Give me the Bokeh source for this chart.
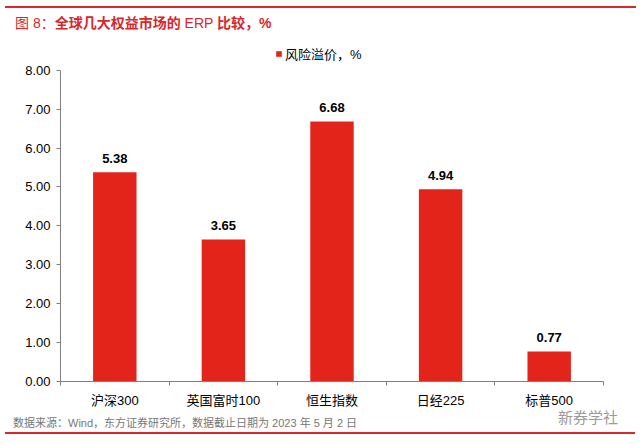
from bokeh.plotting import figure
from bokeh.layouts import column
from bokeh.models import (ColumnDataSource, FixedTicker, NumeralTickFormatter,
                          LabelSet, Legend, LegendItem, Range1d, Div)
from bokeh.core.properties import value
from bokeh.embed import file_html
from bokeh.resources import INLINE

categories = ["沪深300", "英国富时100", "恒生指数", "日经225", "标普500"]
erp_values = [5.38, 3.65, 6.68, 4.94, 0.77]
series_name = "风险溢价，%"
y_ticks = [0, 1, 2, 3, 4, 5, 6, 7, 8]
title_parts = [("图 8：", "normal"), ("全球几大权益市场的", "bold"),
               (" ERP ", "normal"), ("比较，%", "bold")]
source_text = "数据来源：Wind，东方证券研究所，数据截止日期为 2023 年 5 月 2 日"
watermark_text = "新券学社"

FONT = "'Liberation Sans', 'Noto Sans CJK SC', sans-serif"
RED = "#e3241b"
TITLE_RED = "#d9262b"
AXIS = "#7f7f7f"

x_pos = list(range(len(categories)))
src = ColumnDataSource(dict(x=x_pos, y=erp_values,
                            lbl=[f"{v:.2f}" for v in erp_values]))

# frame extends a little above 8.00 so the legend sits inside it
p = figure(width=624, height=380, output_backend="svg", toolbar_location=None,
           x_range=Range1d(-0.5, len(categories) - 0.5), y_range=Range1d(0, 8.61),
           min_border_left=60, min_border_right=21, min_border_top=6,
           min_border_bottom=39, outline_line_color=None, margin=0)
p.xgrid.visible = False
p.ygrid.visible = False

r = p.vbar(x="x", top="y", width=0.4, source=src, fill_color=RED, line_color=None)

# y axis
p.yaxis.ticker = FixedTicker(ticks=y_ticks)
p.yaxis.bounds = (y_ticks[0], y_ticks[-1])
p.yaxis.formatter = NumeralTickFormatter(format="0.00")
p.yaxis.axis_line_color = AXIS
p.yaxis.major_tick_line_color = AXIS
p.yaxis.major_tick_out = 4
p.yaxis.major_tick_in = 0
p.yaxis.minor_tick_line_color = None
p.yaxis.major_label_text_font = FONT
p.yaxis.major_label_text_font_size = "13px"
p.yaxis.major_label_text_color = "#000000"
p.yaxis.major_label_standoff = 6

# x axis: labels at centers, ticks at boundaries
p.xaxis.ticker = FixedTicker(ticks=x_pos,
                             minor_ticks=[i + 0.5 for i in range(-1, len(categories))])
p.xaxis.major_label_overrides = {i: c for i, c in enumerate(categories)}
p.xaxis.axis_line_color = AXIS
p.xaxis.major_tick_line_color = None
p.xaxis.minor_tick_line_color = AXIS
p.xaxis.minor_tick_out = 4
p.xaxis.minor_tick_in = 0
p.xaxis.major_label_text_font = FONT
p.xaxis.major_label_text_font_size = "13px"
p.xaxis.major_label_text_color = "#000000"
p.xaxis.major_label_standoff = 5

labels = LabelSet(x="x", y="y", text="lbl", source=src, y_offset=14,
                  text_align="center", text_baseline="middle",
                  text_font=value(FONT), text_font_size=value("13px"),
                  text_font_style=value("bold"), text_color=value("#000000"))
p.add_layout(labels)

legend = Legend(items=[LegendItem(label=series_name, renderers=[r])],
                location=(215, 318), orientation="horizontal",
                glyph_width=7, glyph_height=7, label_height=14, label_standoff=3,
                padding=0, margin=0, spacing=0, border_line_color=None,
                background_fill_alpha=0,
                label_text_font=FONT, label_text_font_size="13px",
                label_text_color="#000000")
p.add_layout(legend)

title_html = "".join(f'<span style="font-weight:{w}">{t}</span>' for t, w in title_parts)
top = Div(text=(f'<div style="width:636px;height:40px;padding-top:6px;padding-left:5px;'
                f'box-sizing:border-box;">'
                f'<div style="height:32px;border-top:2px solid {TITLE_RED};'
                f'font-family:{FONT};font-size:14px;color:{TITLE_RED};'
                f'line-height:30px;padding-left:10px;box-sizing:border-box;'
                f'white-space:nowrap;">{title_html}</div></div>'),
          width=636, height=40, margin=0)

bottom = Div(text=(f'<div style="position:relative;width:630px;height:14px;'
                   f'border-bottom:2px solid {TITLE_RED};box-sizing:border-box;'
                   f'margin-left:5px;font-family:{FONT};white-space:nowrap;">'
                   f'<span style="position:absolute;left:8px;top:-4px;font-size:11px;'
                   f'line-height:14px;color:#777777;">{source_text}</span>'
                   f'<span style="position:absolute;left:553px;top:-10px;font-size:15px;'
                   f'line-height:16px;color:#9a9a9a;">{watermark_text}</span>'
                   f'</div>'),
             width=636, height=14, margin=0)

layout = column(top, p, bottom, spacing=0)
open("out.html", "w").write(file_html(layout, INLINE))
